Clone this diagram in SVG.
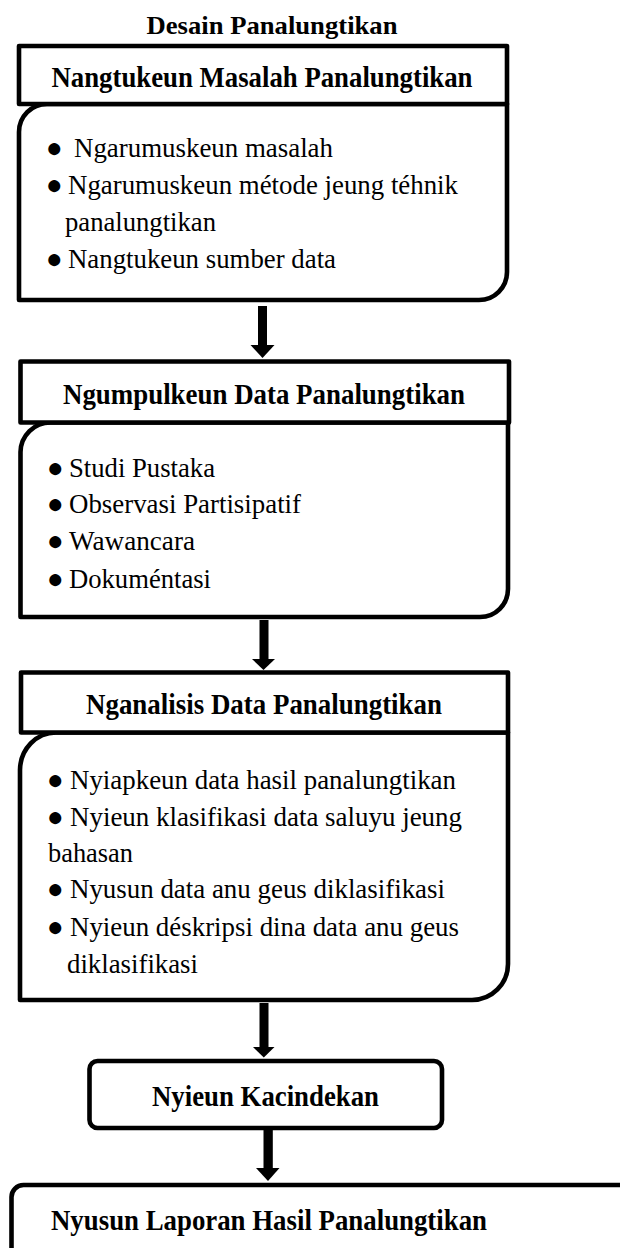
<svg xmlns="http://www.w3.org/2000/svg" width="620" height="1248" viewBox="0 0 620 1248" font-family="Liberation Serif, serif">
<style>
.box{fill:#fff;stroke:#000;stroke-width:4.6;stroke-linejoin:round}
.h{font-weight:bold;font-size:29px;fill:#000;text-anchor:middle}
.t{font-weight:bold;font-size:26px;fill:#000;text-anchor:middle}
.b{font-size:28px;fill:#000}
.arr{fill:#000;stroke:none}
</style>
<rect width="620" height="1248" fill="#fff"/>
<g id="title">
<text class="t" x="272" y="34" textLength="251" lengthAdjust="spacingAndGlyphs">Desain Panalungtikan</text>
</g>
<g id="node1">
<path class="box" d="M19,300 L19,132 A28,28 0 0 1 47,104 L507,104 L507,272 A28,28 0 0 1 479,300 Z"/>
<rect class="box" x="19" y="46" width="488" height="58"/>
<text class="h" x="262" y="87" textLength="421" lengthAdjust="spacingAndGlyphs">Nangtukeun Masalah Panalungtikan</text>
<text class="b" y="157"><tspan x="46">●</tspan><tspan x="74" textLength="259" lengthAdjust="spacingAndGlyphs">Ngarumuskeun masalah</tspan></text>
<text class="b" y="194"><tspan x="46">●</tspan><tspan x="68" textLength="390" lengthAdjust="spacingAndGlyphs">Ngarumuskeun métode jeung téhnik</tspan></text>
<text class="b" x="65" y="231" textLength="151" lengthAdjust="spacingAndGlyphs">panalungtikan</text>
<text class="b" y="268"><tspan x="46">●</tspan><tspan x="68" textLength="268" lengthAdjust="spacingAndGlyphs">Nangtukeun sumber data</tspan></text>
</g>
<g id="node2">
<path class="box" d="M20.5,617 L20.5,452 A30,30 0 0 1 50.5,422.5 L508,422.5 L508,589 A28,28 0 0 1 480,617 Z"/>
<rect class="box" x="20.5" y="361.5" width="488.5" height="61"/>
<text class="h" x="264" y="404" textLength="402" lengthAdjust="spacingAndGlyphs">Ngumpulkeun Data Panalungtikan</text>
<text class="b" y="477"><tspan x="47">●</tspan><tspan x="69" textLength="146" lengthAdjust="spacingAndGlyphs">Studi Pustaka</tspan></text>
<text class="b" y="513"><tspan x="47">●</tspan><tspan x="69" textLength="232" lengthAdjust="spacingAndGlyphs">Observasi Partisipatif</tspan></text>
<text class="b" y="550"><tspan x="47">●</tspan><tspan x="69" textLength="126" lengthAdjust="spacingAndGlyphs">Wawancara</tspan></text>
<text class="b" y="588"><tspan x="47">●</tspan><tspan x="69" textLength="142" lengthAdjust="spacingAndGlyphs">Dokuméntasi</tspan></text>
</g>
<g id="node3">
<path class="box" d="M20,1000 L20,770 A36,38 0 0 1 56,732.5 L508,732.5 L508,964 A36,36 0 0 1 472,1000 Z"/>
<rect class="box" x="21" y="672.5" width="487" height="60"/>
<text class="h" x="264" y="714" textLength="356" lengthAdjust="spacingAndGlyphs">Nganalisis Data Panalungtikan</text>
<text class="b" y="789"><tspan x="47">●</tspan><tspan x="70" textLength="386" lengthAdjust="spacingAndGlyphs">Nyiapkeun data hasil panalungtikan</tspan></text>
<text class="b" y="826"><tspan x="47">●</tspan><tspan x="70" textLength="392" lengthAdjust="spacingAndGlyphs">Nyieun klasifikasi data saluyu jeung</tspan></text>
<text class="b" x="48" y="862" textLength="85" lengthAdjust="spacingAndGlyphs">bahasan</text>
<text class="b" y="898"><tspan x="47">●</tspan><tspan x="70" textLength="375" lengthAdjust="spacingAndGlyphs">Nyusun data anu geus diklasifikasi</tspan></text>
<text class="b" y="936"><tspan x="47">●</tspan><tspan x="70" textLength="389" lengthAdjust="spacingAndGlyphs">Nyieun déskripsi dina data anu geus</tspan></text>
<text class="b" x="67" y="973" textLength="131" lengthAdjust="spacingAndGlyphs">diklasifikasi</text>
</g>
<g id="node4">
<rect class="box" x="89.5" y="1061" width="352.5" height="67" rx="8" ry="8"/>
<text class="h" x="265.5" y="1106" textLength="227" lengthAdjust="spacingAndGlyphs">Nyieun Kacindekan</text>
</g>
<g id="node5">
<rect class="box" x="11.5" y="1185" width="640" height="100" rx="12" ry="12"/>
<text class="h" x="269" y="1230" textLength="436" lengthAdjust="spacingAndGlyphs">Nyusun Laporan Hasil Panalungtikan</text>
</g>
<g id="connectors">
<rect class="arr" x="258" y="306" width="9" height="40"/>
<polygon class="arr" points="250.5,345 274.5,345 262.5,358"/>
<rect class="arr" x="259.5" y="620" width="9" height="40"/>
<polygon class="arr" points="252,659 275,659 263.5,670"/>
<rect class="arr" x="259.5" y="1003" width="9" height="45"/>
<polygon class="arr" points="253,1047 274.5,1047 263.8,1057.5"/>
<rect class="arr" x="263.5" y="1130" width="9.3" height="39"/>
<polygon class="arr" points="256,1168 279.5,1168 268,1181"/>
</g>
</svg>
